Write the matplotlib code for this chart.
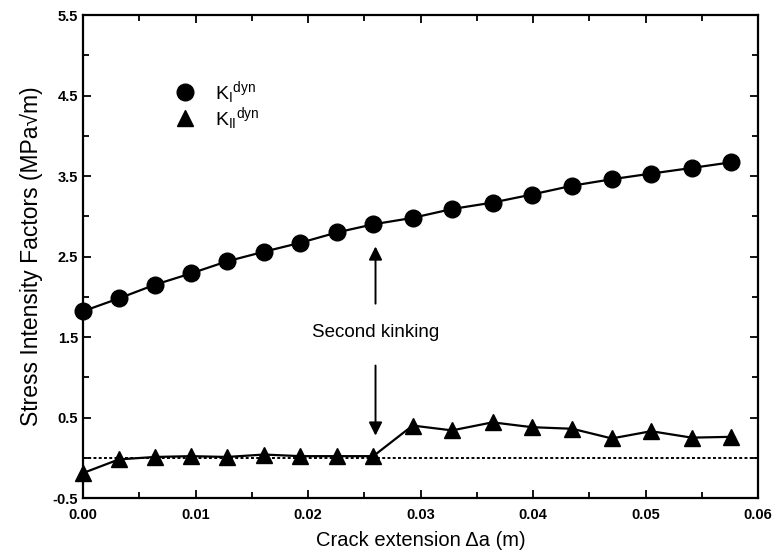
import matplotlib
matplotlib.use("Agg")
import matplotlib.pyplot as plt
from matplotlib.ticker import MultipleLocator, FormatStrFormatter
import numpy as np

plt.rcParams['font.family'] = ['Liberation Sans', 'DejaVu Sans']
plt.rcParams['axes.unicode_minus'] = False

# crack extension (m)
da = [0.0, 0.0032, 0.0064, 0.0096, 0.0128, 0.0161, 0.0193, 0.0226, 0.0258,
      0.0293, 0.0328, 0.0364, 0.0399, 0.0435, 0.0470, 0.0505, 0.0541, 0.0576]
# dynamic stress intensity factors (MPa sqrt(m))
k1 = [1.82, 1.98, 2.15, 2.29, 2.44, 2.56, 2.67, 2.80, 2.90,
      2.98, 3.09, 3.17, 3.27, 3.38, 3.46, 3.53, 3.60, 3.67]
k2 = [-0.19, -0.02, 0.01, 0.02, 0.01, 0.04, 0.02, 0.02, 0.02,
      0.40, 0.34, 0.44, 0.38, 0.36, 0.24, 0.33, 0.25, 0.26]

fig = plt.figure(figsize=(7.75, 5.58), dpi=100)
ax = fig.add_axes([0.1071, 0.1075, 0.871, 0.8656])

ax.plot([0, 0.06], [0, 0], color="black", lw=1.4, ls=(0, (1.5, 1.2)), zorder=1)
ax.plot(da, k1, color="black", lw=1.6, marker="o", ms=12, zorder=3, clip_on=False)
ax.plot(da, k2, color="black", lw=1.6, marker="^", ms=12, zorder=3, clip_on=False)

# annotation
ax.annotate("", xy=(0.026, 2.66), xytext=(0.026, 1.88),
            arrowprops=dict(arrowstyle="-|>", color="black", lw=1.4, mutation_scale=20))
ax.annotate("", xy=(0.026, 0.24), xytext=(0.026, 1.18),
            arrowprops=dict(arrowstyle="-|>", color="black", lw=1.4, mutation_scale=20))
ax.text(0.026, 1.55, "Second kinking", ha="center", va="center", fontsize=13.5)

# legend drawn by hand
ax.plot([0.0091], [4.54], marker="o", ms=12, color="black", ls="none")
ax.plot([0.0091], [4.22], marker="^", ms=12, color="black", ls="none")
ax.text(0.0117, 4.54, r"$\mathregular{K_{I}{}^{dyn}}$", va="center", fontsize=14)
ax.text(0.0117, 4.22, r"$\mathregular{K_{II}{}^{dyn}}$", va="center", fontsize=14)

ax.set_xlim(0, 0.06)
ax.set_ylim(-0.5, 5.5)
ax.set_yticks([-0.5, 0.5, 1.5, 2.5, 3.5, 4.5, 5.5])
ax.yaxis.set_minor_locator(MultipleLocator(0.5))
ax.xaxis.set_major_locator(MultipleLocator(0.01))
ax.xaxis.set_minor_locator(MultipleLocator(0.005))
ax.xaxis.set_major_formatter(FormatStrFormatter("%.2f"))
ax.tick_params(which="both", direction="in", top=True, right=True, width=1.3,
               labelsize=10.5)
ax.tick_params(which="major", length=6)
ax.tick_params(which="minor", length=4)
ax.tick_params(axis="x", pad=7)
for lab in ax.get_xticklabels() + ax.get_yticklabels():
    lab.set_fontweight("bold")
for s in ax.spines.values():
    s.set_linewidth(1.6)

ax.set_xlabel("Crack extension \u0394a (m)", fontsize=14.5, labelpad=7)
ax.set_ylabel("Stress Intensity Factors (MPa\u221am)", fontsize=16.5, labelpad=7)

fig.savefig("out.png", dpi=100)
